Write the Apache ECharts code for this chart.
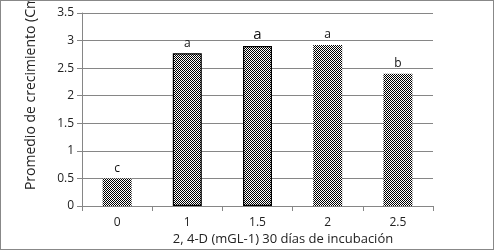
<!DOCTYPE html>
<html><head><meta charset="utf-8">
<script src="https://cdn.jsdelivr.net/npm/echarts@6/dist/echarts.min.js"></script>
<style>html,body{margin:0;padding:0;background:#fff}#c{width:494px;height:250px;box-sizing:border-box;border:1px solid #888}</style>
</head><body><div id="c"></div>
<script>
var categories = ['0', '1', '1.5', '2', '2.5'];
var values = [0.5, 2.77, 2.9, 2.92, 2.4];
var letters = ['c', 'a', 'a', 'a', 'b'];
var yTicks = [0, 0.5, 1, 1.5, 2, 2.5, 3, 3.5];
var yTitle = 'Promedio de crecimiento (Cm)';
var xTitle = '2, 4-D (mGL-1) 30 días de incubación';

var pc = document.createElement('canvas');
pc.width = 2; pc.height = 2;
var g = pc.getContext('2d');
g.fillStyle = '#fff'; g.fillRect(0,0,2,2);
g.fillStyle = '#000'; g.fillRect(0,0,1,1); g.fillRect(1,1,1,1);

var bordered = [false, true, true, false, false];
var bigLabel = [false, false, true, false, false];
var font = 'Open Sans';
var chart = echarts.init(document.getElementById('c'), null, {renderer: 'canvas'});
chart.setOption({
  animation: false,
  grid: {left: 81, right: 60, top: 12, bottom: 43},
  xAxis: {
    type: 'category', data: categories,
    axisLine: {lineStyle: {color: '#868686'}},
    axisTick: {show: true, length: 5, lineStyle: {color: '#868686'}},
    axisLabel: {color: '#222', fontFamily: font, fontSize: 12, margin: 11}
  },
  yAxis: {
    type: 'value', min: yTicks[0], max: yTicks[yTicks.length-1], interval: 0.5,
    axisLine: {show: true, lineStyle: {color: '#868686'}},
    axisTick: {show: true, length: 5, lineStyle: {color: '#868686'}},
    axisLabel: {color: '#222', fontFamily: font, fontSize: 12, margin: 8},
    splitLine: {lineStyle: {color: '#868686'}}
  },
  graphic: [
    {type: 'text', x: 30, y: 90, rotation: Math.PI/2, style: {text: yTitle, fontFamily: font, fontSize: 14, fill: '#222', align: 'center', verticalAlign: 'middle'}},
    {type: 'text', x: 282, y: 238, style: {text: xTitle, fontFamily: font, fontSize: 13, fill: '#222', align: 'center', verticalAlign: 'middle'}}
  ],
  series: [{
    type: 'bar', barWidth: 29,
    data: values.map(function(v, i){
      return {value: v,
        itemStyle: {color: {image: pc, repeat: 'repeat'}, borderColor: bordered[i] ? '#000' : 'transparent', borderWidth: bordered[i] ? 1.2 : 0},
        label: {show: true, position: 'top', formatter: letters[i], fontFamily: font, fontSize: bigLabel[i] ? 15 : 12, distance: 4, color: '#111'}};
    })
  }]
});
</script></body></html>
